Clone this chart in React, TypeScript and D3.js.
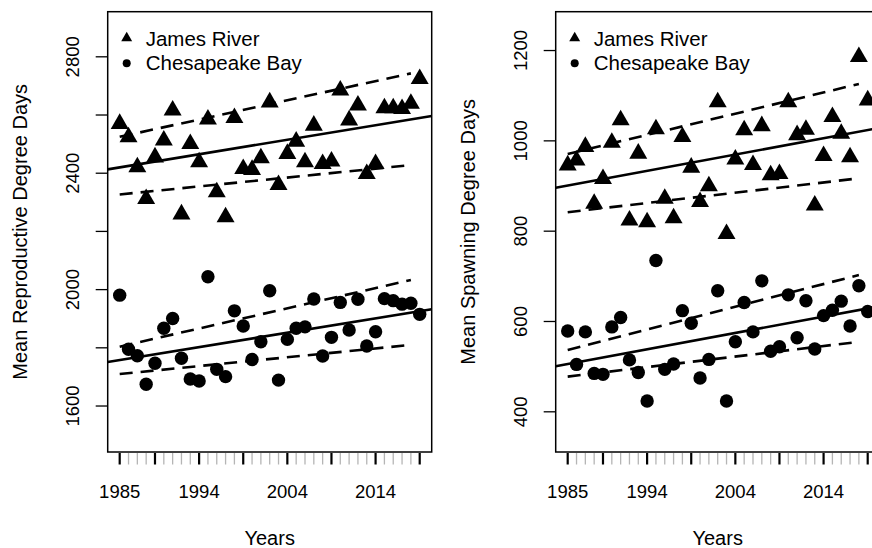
import React from 'react';
import * as d3 from 'd3';

// 연도 (1985 ~ 2019)
const years = d3.range(1985, 2020);

// 생식 적산온도 (left panel)
const jamesRepro = [
  2570, 2524, 2421, 2312, 2455, 2513, 2616, 2259, 2501, 2438, 2585, 2335, 2249, 2590, 2415, 2412, 2452, 2644,
  2360, 2467, 2509, 2438, 2564, 2432, 2441, 2685, 2582, 2633, 2398, 2432, 2624, 2624, 2621, 2639, 2724,
];
const chesRepro = [
  1981, 1795, 1773, 1675, 1747, 1867, 1901, 1764, 1693, 1686, 2044, 1726, 1701, 1927, 1875, 1760, 1821, 1996,
  1689, 1829, 1867, 1872, 1968, 1772, 1836, 1956, 1861, 1967, 1806, 1855, 1969, 1962, 1950, 1953, 1915,
];

// 산란 적산온도 (right panel)
const jamesSpawn = [
  946, 957, 987, 861, 916, 996, 1046, 824, 972, 820, 1026, 872, 829, 1009, 941, 865, 900, 1086, 794, 959, 1024,
  947, 1033, 924, 927, 1086, 1013, 1025, 857, 967, 1053, 1016, 964, 1186, 1090,
];
const chesSpawn = [
  579, 505, 577, 485, 483, 588, 609, 515, 487, 424, 735, 494, 506, 624, 596, 475, 516, 668, 424, 555, 642, 577,
  690, 534, 544, 659, 564, 646, 539, 613, 625, 645, 590, 679, 622,
];

// 회귀선 (values at first / last year)
const fitYears = [1985, 2019];
const bandYears = [1985, 2018];
const reproJamesFit = [2420, 2590];
const reproJamesUpper = [2525, 2743];
const reproJamesLower = [2327, 2428];
const reproChesFit = [1758, 1926];
const reproChesUpper = [1804, 2033];
const reproChesLower = [1710, 1810];
const spawnJamesFit = [901, 1024];
const spawnJamesUpper = [971, 1126];
const spawnJamesLower = [842, 917];
const spawnChesFit = [506, 629];
const spawnChesUpper = [537, 703];
const spawnChesLower = [478, 555];

// 축 눈금
const majorYears = [1985, 1989, 1994, 1999, 2004, 2009, 2014, 2019];
const labelYears = [1985, 1994, 2004, 2014];
const reproTicks = [1600, 1800, 2000, 2200, 2400, 2600, 2800];
const reproLabels = [1600, 2000, 2400, 2800];
const spawnTicks = [400, 600, 800, 1000, 1200];
const spawnLabels = [400, 600, 800, 1000, 1200];

const legendLabels = ['James River', 'Chesapeake Bay'];

const FONT = '"Liberation Sans", Arial, sans-serif';
const TOP = 11.7;
const BOTTOM = 452;
const PANEL_W = 324;

interface PanelProps {
  left: number;
  yDomain: [number, number];
  yTitle: string;
  yTicks: number[];
  yLabels: number[];
  james: number[];
  ches: number[];
  jamesFit: number[];
  jamesUpper: number[];
  jamesLower: number[];
  chesFit: number[];
  chesUpper: number[];
  chesLower: number[];
}

function Panel({
  left,
  yDomain,
  yTitle,
  yTicks,
  yLabels,
  james,
  ches,
  jamesFit,
  jamesUpper,
  jamesLower,
  chesFit,
  chesUpper,
  chesLower,
}: PanelProps) {
  const x = d3.scaleLinear().domain([1983.64, 2020.36]).range([left, left + PANEL_W]);
  const y = d3.scaleLinear().domain(yDomain).range([BOTTOM, TOP]);
  const [x0, x1] = x.domain();

  const line = d3
    .line<[number, number]>()
    .x((d) => x(d[0]))
    .y((d) => y(d[1]));

  // abline 처럼 전체 폭으로 연장
  const fullLine = (v: number[]) => {
    const slope = (v[1] - v[0]) / (fitYears[1] - fitYears[0]);
    const at = (yr: number) => v[0] + (yr - fitYears[0]) * slope;
    return line([
      [x0, at(x0)],
      [x1, at(x1)],
    ]) as string;
  };
  const band = (v: number[]) =>
    line([
      [bandYears[0], v[0]],
      [bandYears[1], v[1]],
    ]) as string;

  const tri = d3.symbol().type(d3.symbolTriangle).size(140)() as string;
  const triSmall = d3.symbol().type(d3.symbolTriangle).size(52)() as string;
  const minorYears = years.filter((yr) => !majorYears.includes(yr));
  const cx = left + PANEL_W / 2;
  const cy = (TOP + BOTTOM) / 2;

  return (
    <g fontFamily={FONT} fill="#000">
      {/* x 축 눈금 */}
      {minorYears.map((yr) => (
        <line key={`m${yr}`} x1={x(yr)} x2={x(yr)} y1={BOTTOM + 1} y2={BOTTOM + 12.5} stroke="#b5b5b5" strokeWidth={1.3} />
      ))}
      {majorYears.map((yr) => (
        <line key={`M${yr}`} x1={x(yr)} x2={x(yr)} y1={BOTTOM + 1} y2={BOTTOM + 12.5} stroke="#000" strokeWidth={2.2} />
      ))}
      {labelYears.map((yr) => (
        <text key={`l${yr}`} x={x(yr)} y={497.5} textAnchor="middle" fontSize={18.5}>
          {yr}
        </text>
      ))}
      <text x={cx} y={544.5} textAnchor="middle" fontSize={20}>
        Years
      </text>

      {/* y 축 */}
      {yTicks.map((t) => (
        <line key={`t${t}`} x1={left - 12} x2={left} y1={y(t)} y2={y(t)} stroke="#000" strokeWidth={1.3} />
      ))}
      {yLabels.map((t) => (
        <text
          key={`yl${t}`}
          transform={`translate(${left - 29},${y(t)}) rotate(-90)`}
          textAnchor="middle"
          fontSize={18.5}>
          {t}
        </text>
      ))}
      <text transform={`translate(${left - 81},${cy}) rotate(-90)`} textAnchor="middle" fontSize={20}>
        {yTitle}
      </text>

      {/* 회귀선 */}
      <g fill="none" stroke="#000" strokeWidth={2.6}>
        <path d={fullLine(jamesFit)} />
        <path d={fullLine(chesFit)} />
        <g strokeDasharray="13,8">
          <path d={band(jamesUpper)} />
          <path d={band(jamesLower)} />
          <path d={band(chesUpper)} />
          <path d={band(chesLower)} />
        </g>
      </g>

      {/* 점 */}
      {years.map((yr, i) => (
        <path key={`j${yr}`} d={tri} transform={`translate(${x(yr)},${y(james[i])})`} />
      ))}
      {years.map((yr, i) => (
        <circle key={`c${yr}`} cx={x(yr)} cy={y(ches[i])} r={6.7} />
      ))}

      {/* 범례 */}
      <path d={triSmall} transform={`translate(${left + 19},${38})`} />
      <circle cx={left + 19} cy={63.3} r={4} />
      <text x={left + 38} y={45.7} fontSize={20.5}>
        {legendLabels[0]}
      </text>
      <text x={left + 38} y={70.2} fontSize={20.5}>
        {legendLabels[1]}
      </text>

      {/* 외곽 박스 */}
      <rect x={left} y={TOP} width={PANEL_W} height={BOTTOM - TOP} fill="none" stroke="#000" strokeWidth={1.5} />
    </g>
  );
}

export default function App() {
  return (
    <div style={{ position: 'absolute', left: 0, top: 0, width: 872, height: 548, background: '#fff' }}>
      <svg width={872} height={548} style={{ display: 'block', overflow: 'hidden' }}>
        <rect width={872} height={548} fill="#fff" />
        <Panel
          left={107.7}
          yDomain={[1442, 2955]}
          yTitle="Mean Reproductive Degree Days"
          yTicks={reproTicks}
          yLabels={reproLabels}
          james={jamesRepro}
          ches={chesRepro}
          jamesFit={reproJamesFit}
          jamesUpper={reproJamesUpper}
          jamesLower={reproJamesLower}
          chesFit={reproChesFit}
          chesUpper={reproChesUpper}
          chesLower={reproChesLower}
        />
        <Panel
          left={555.7}
          yDomain={[311, 1286]}
          yTitle="Mean Spawning Degree Days"
          yTicks={spawnTicks}
          yLabels={spawnLabels}
          james={jamesSpawn}
          ches={chesSpawn}
          jamesFit={spawnJamesFit}
          jamesUpper={spawnJamesUpper}
          jamesLower={spawnJamesLower}
          chesFit={spawnChesFit}
          chesUpper={spawnChesUpper}
          chesLower={spawnChesLower}
        />
      </svg>
    </div>
  );
}
